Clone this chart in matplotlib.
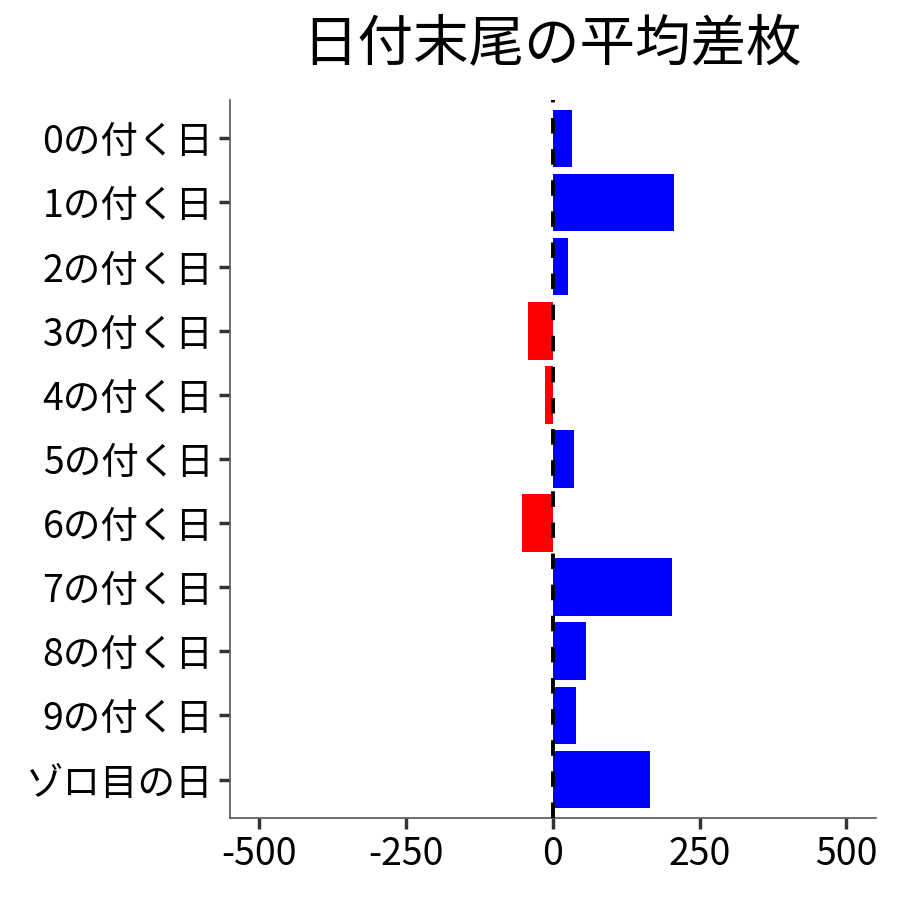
import numpy as np
import matplotlib
matplotlib.use('Agg')
import matplotlib.pyplot as plt

plt.rcParams['font.family'] = ['Noto Sans CJK JP', 'DejaVu Sans']

# data
labels = ['0の付く日', '1の付く日', '2の付く日', '3の付く日', '4の付く日',
          '5の付く日', '6の付く日', '7の付く日', '8の付く日', '9の付く日', 'ゾロ目の日']
diffs = [32, 206, 26, -42, -13, 36, -52, 203, 57, 40, 165]
xticks = [-500, -250, 0, 250, 500]

fig = plt.figure(figsize=(9, 9), dpi=100)
ax = fig.add_axes([0.2556, 0.0911, 0.7174, 0.7979])

y = np.arange(len(labels))
colors = ['blue' if d >= 0 else 'red' for d in diffs]
ax.barh(y, diffs, height=0.9, color=colors)
ax.axvline(0, color='black', linestyle=(0, (4, 4)), linewidth=2.8, zorder=3)

ax.set_xlim(-550, 550)
ax.set_ylim(len(labels) - 0.4, -0.6)
ax.set_yticks(y)
ax.set_yticklabels(labels)
ax.set_xticks(xticks)
ax.set_xticklabels([str(v) for v in xticks])

for s in ['top', 'right']:
    ax.spines[s].set_visible(False)
for s in ['left', 'bottom']:
    ax.spines[s].set_color('#555555')
    ax.spines[s].set_linewidth(1.2)
ax.tick_params(axis='both', labelsize=27, colors='#333333', length=8, width=2.5,
               labelcolor='black', pad=4)

fig.suptitle('日付末尾の平均差枚', fontsize=40, x=0.613, y=0.982)

fig.savefig('out.png', dpi=100)
